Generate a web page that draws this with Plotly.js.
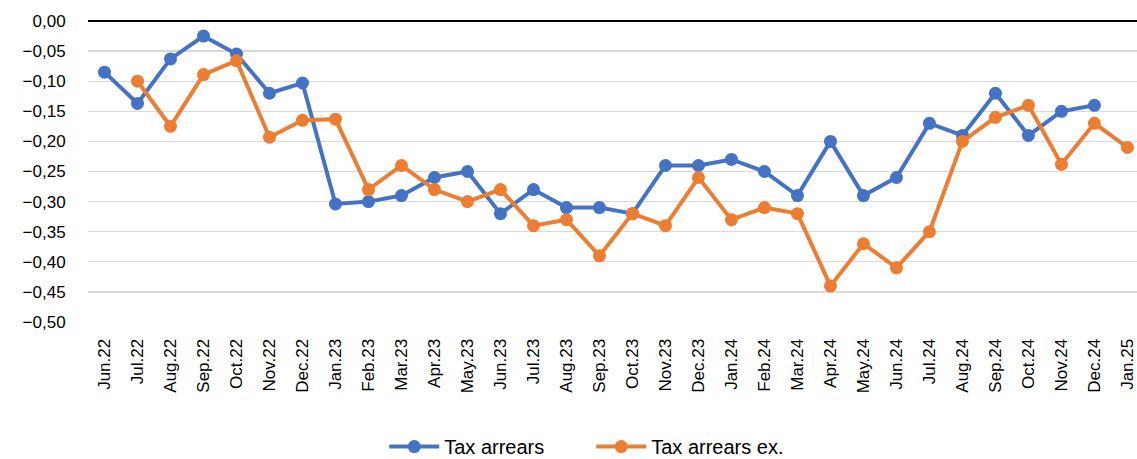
<!DOCTYPE html>
<html>
<head>
<meta charset="utf-8">
<script src="https://cdn.plot.ly/plotly-3.0.1.min.js"></script>
<style>html,body{margin:0;padding:0;background:#fff;}#chart{width:1137px;height:459px;}</style>
</head>
<body>
<div id="chart"></div>
<script>
const categories = ["Jun.22","Jul.22","Aug.22","Sep.22","Oct.22","Nov.22","Dec.22","Jan.23","Feb.23","Mar.23","Apr.23","May.23","Jun.23","Jul.23","Aug.23","Sep.23","Oct.23","Nov.23","Dec.23","Jan.24","Feb.24","Mar.24","Apr.24","May.24","Jun.24","Jul.24","Aug.24","Sep.24","Oct.24","Nov.24","Dec.24","Jan.25"];
const taxArrears = [-0.085,-0.137,-0.063,-0.025,-0.055,-0.120,-0.103,-0.304,-0.300,-0.290,-0.260,-0.250,-0.320,-0.280,-0.310,-0.310,-0.320,-0.240,-0.240,-0.230,-0.250,-0.290,-0.200,-0.290,-0.260,-0.170,-0.190,-0.120,-0.190,-0.150,-0.140,null];
const taxArrearsEx = [null,-0.100,-0.175,-0.089,-0.066,-0.193,-0.165,-0.163,-0.280,-0.240,-0.280,-0.300,-0.280,-0.340,-0.330,-0.390,-0.320,-0.340,-0.260,-0.330,-0.310,-0.320,-0.440,-0.370,-0.410,-0.350,-0.200,-0.160,-0.140,-0.238,-0.170,-0.210];
const seriesNames = ["Tax arrears","Tax arrears ex."];
const yTicks = [0,-0.05,-0.10,-0.15,-0.20,-0.25,-0.30,-0.35,-0.40,-0.45,-0.50];

const font = "Liberation Sans, Arial, sans-serif";
const traces = [
  {x: categories, y: taxArrears, name: seriesNames[0], type: "scatter", mode: "lines+markers",
   line: {color: "#4472C4", width: 4}, marker: {color: "#4472C4", size: 13}},
  {x: categories, y: taxArrearsEx, name: seriesNames[1], type: "scatter", mode: "lines+markers",
   line: {color: "#ED7D31", width: 4}, marker: {color: "#ED7D31", size: 13}}
];
const layout = {
  width: 1137, height: 459,
  margin: {l: 88, r: 0, t: 21, b: 137},
  paper_bgcolor: "#fff", plot_bgcolor: "#fff",
  separators: ",.",
  showlegend: true,
  font: {family: font, size: 16, color: "#000"},
  xaxis: {type: "category", range: [-0.5, 31.29], tickangle: -90, showgrid: false,
          showline: false, zeroline: false, ticks: "outside", ticklen: 9, tickcolor: "rgba(0,0,0,0)",
          tickfont: {family: font, size: 17, color: "#000"}},
  yaxis: {range: [-0.5, 0], tickvals: yTicks, tickformat: ".2f", showgrid: true, gridcolor: "#d9d9d9",
          gridwidth: 1.3, zeroline: true, zerolinecolor: "#000", zerolinewidth: 1.8, showline: false,
          ticks: "outside", ticklen: 18, tickcolor: "rgba(0,0,0,0)",
          tickfont: {family: font, size: 17, color: "#000"}},
  legend: {orientation: "h", x: 0.52, xanchor: "center", xref: "container", y: 0.027, yanchor: "middle", yref: "container",
           font: {family: font, size: 20, color: "#000"}, itemwidth: 50, entrywidth: 142,
           tracegroupgap: 0}
};
Plotly.newPlot("chart", traces, layout, {displayModeBar: false, staticPlot: true});
</script>
</body>
</html>
